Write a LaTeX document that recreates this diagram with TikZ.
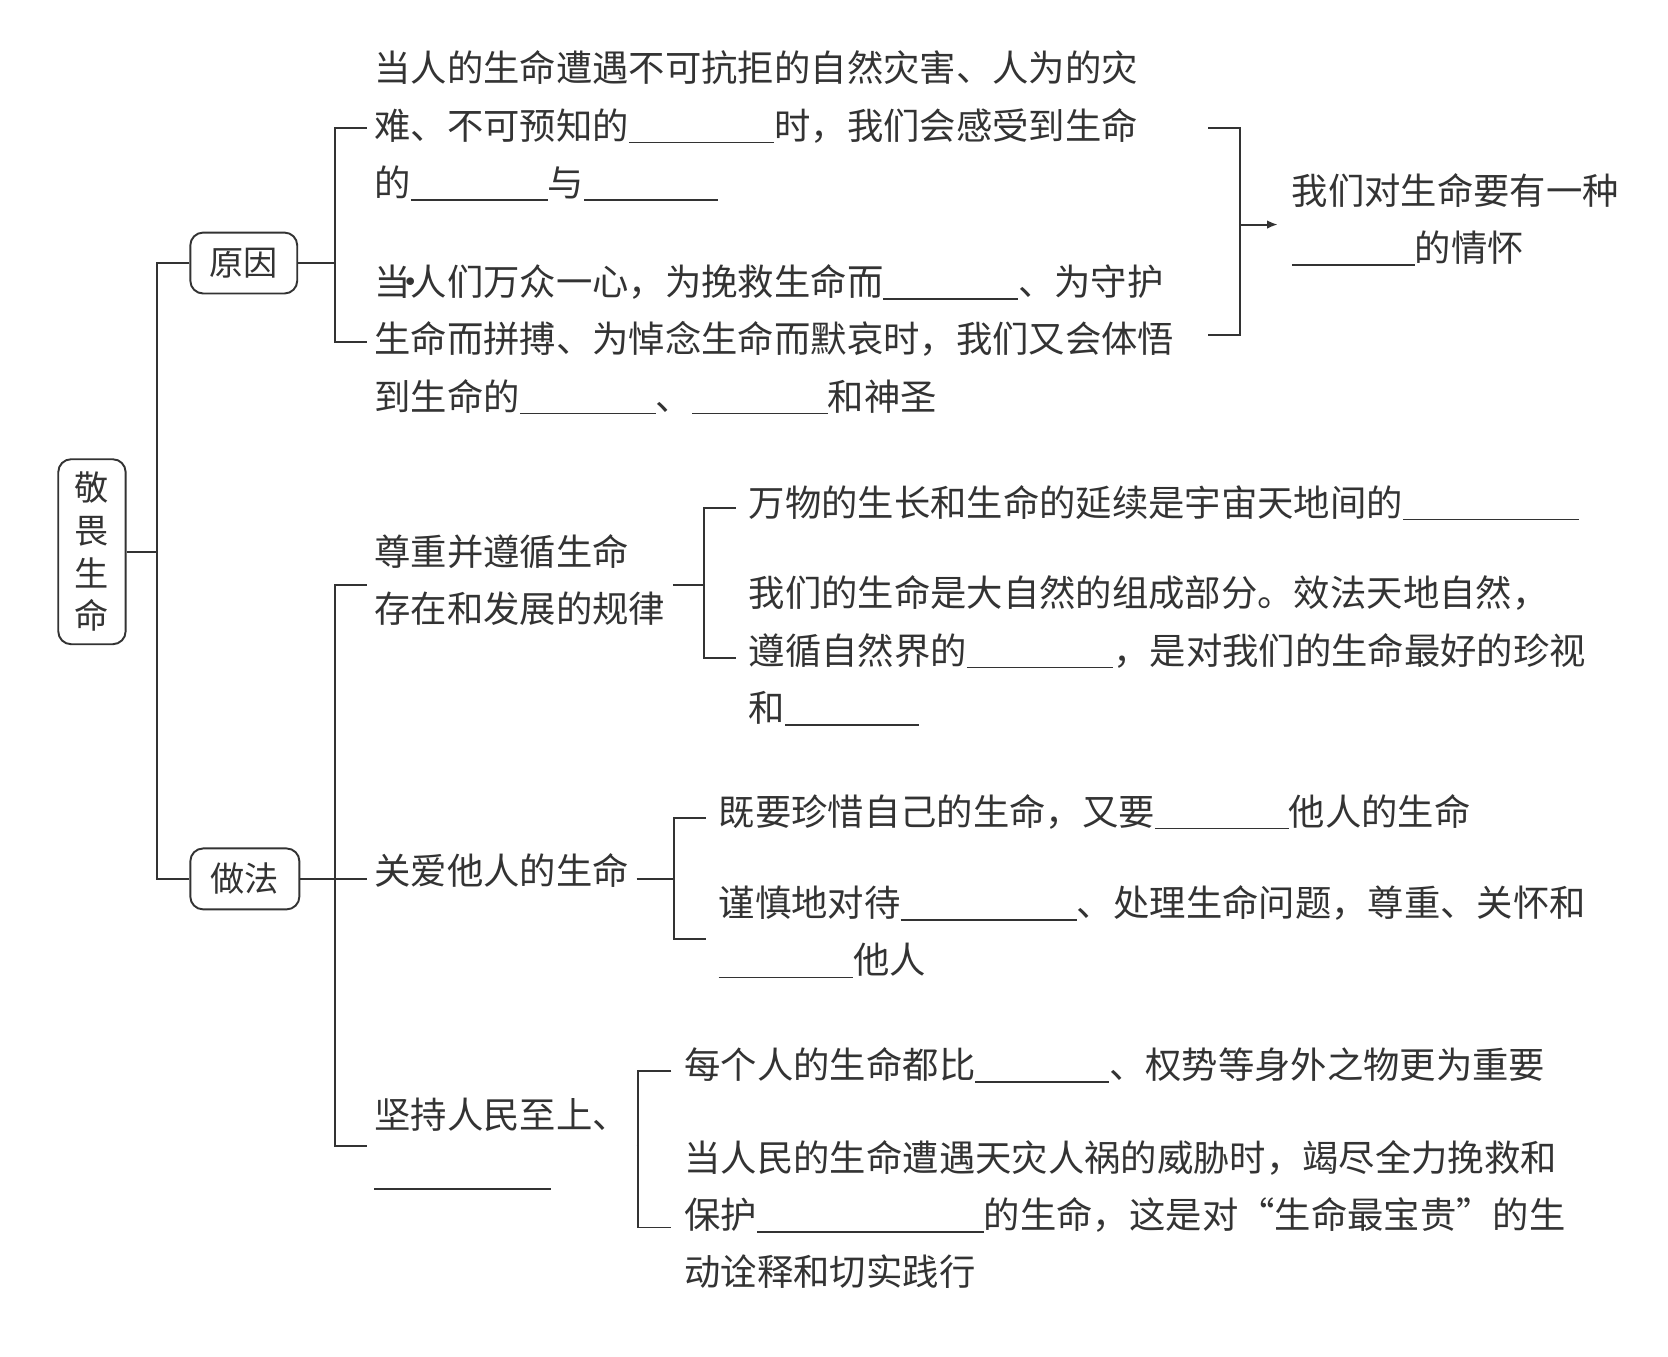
\documentclass[tikz,border=0pt]{standalone}
\usepackage{fontspec}
\setmainfont{Noto Sans CJK SC}
\usepackage{tikz}
\usetikzlibrary{arrows.meta}
\newcommand{\fillin}[1]{\rule[-4pt]{#1pt}{1.5pt}}

\begin{document}
\begin{tikzpicture}[
  x=1pt, y=-1pt,
  tnode/.style={anchor=west,align=left,inner xsep=7pt,inner ysep=0pt,text=black!80,font=\fontsize{34}{53.5}\selectfont,
    execute at begin node={\rule{0pt}{40pt}},execute at end node={\rule[-#1pt]{0pt}{0pt}}},
  tnode/.default=26.8,
  leaf/.style={tnode=#1,inner xsep=12pt},
  leaf/.default=26.8,
  rbox/.style={draw=black!80,rounded corners=12pt,line width=1.8pt,inner sep=0pt,text=black!80,font=\fontsize{32}{40}\selectfont},
  link/.style={draw=black!80,line width=1.8pt}
]
  \useasboundingbox (0,0) rectangle (1560,1269);

  % root and branches
  \node[rbox,minimum width=63pt,minimum height=173pt,align=center] (root) at (86,516) {敬\\畏\\生\\命};
  \node[rbox,minimum width=100pt,minimum height=57pt] (why) at (228,246) {原因};
  \node[rbox,minimum width=102pt,minimum height=57pt] (how) at (229,822) {做法};

  % reasons
  \node[tnode=8.8] (r1) at (343,120) {当人的生命遭遇不可抗拒的自然灾害、人为的灾\\难、不可预知的\fillin{136}时，我们会感受到生命\\的\fillin{128}与\fillin{125}};
  \node[tnode=8.8] (r2) at (343,320) {当\makebox[0pt]{·}人们万众一心，为挽救生命而\fillin{126}、为守护\\生命而拼搏、为悼念生命而默哀时，我们又会体悟\\到生命的\fillin{127}、\fillin{127}和神圣};
  \node[tnode=13.8,inner xsep=13pt] (goal) at (1195,210) {我们对生命要有一种\\\fillin{115}的情怀};

  % ways
  \node[tnode=11.8] (d1) at (343,547) {尊重并遵循生命\\存在和发展的规律};
  \node[tnode=28.8] (d2) at (343,822) {关爱他人的生命};
  \node[tnode=8.8] (d3) at (343,1072) {坚持人民至上、\\\fillin{165}};

  % details
  \node[leaf=24.8] (l1) at (688,475) {万物的生长和生命的延续是宇宙天地间的\fillin{165}};
  \node[leaf=16.8] (l2) at (688,615) {我们的生命是大自然的组成部分。效法天地自然，\\遵循自然界的\fillin{137}，是对我们的生命最好的珍视\\和\fillin{125}};
  \node[leaf] (c1) at (660,765) {既要珍惜自己的生命，又要\fillin{125}他人的生命};
  \node[leaf=16.8] (c2) at (660,878) {谨慎地对待\fillin{165}、处理生命问题，尊重、关怀和\\\fillin{126}他人};
  \node[leaf] (e1) at (628,1002) {每个人的生命都比\fillin{125}、权势等身外之物更为重要};
  \node[leaf] (e2) at (628,1148) {当人民的生命遭遇天灾人祸的威胁时，竭尽全力挽救和\\保护\fillin{212}的生命，这是对“生命最宝贵”的生\\动诠释和切实践行};

  % junctions
  \coordinate (j0) at (147,516);
  \coordinate (j1) at (313,246);
  \coordinate (j3) at (313,822);
  \coordinate (j2) at (658,547);
  \coordinate (j4) at (630,822);
  \coordinate (j5) at (597,1072);
  \coordinate (b1) at (1130,120);
  \coordinate (b2) at (1130,313);
  \coordinate (bm) at (1160,210);

  % root edges
  \draw[link] (root.east) -- (j0);
  \draw[link] (why.west) -| (j0) |- (how.west);

  % reason edges
  \draw[link] (why.east) -- (j1);
  \draw[link] (r1.west) -| (j1) |- (r2.west);
  \draw[link] (b1) -| (bm) |- (b2);
  \draw[link,-{Latex[length=10pt,width=8pt]}] (bm) -- (goal.west);

  % way edges
  \draw[link] (how.east) -- (d2.west);
  \draw[link] (d1.west) -| (j3) |- (d3.west);

  % detail edges
  \draw[link] (d1.east) -- (j2);
  \draw[link] (l1.west) -| (j2) |- (l2.west);
  \draw[link] (d2.east) -- (j4);
  \draw[link] (c1.west) -| (j4) |- (c2.west);
  \draw[link] (d3.east) -- (j5);
  \draw[link] (e1.west) -| (j5) |- (e2.west);

\end{tikzpicture}
\end{document}
